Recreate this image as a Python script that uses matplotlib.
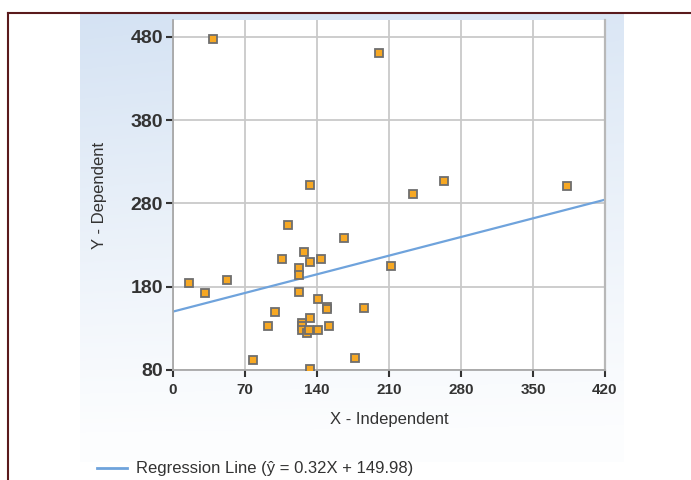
import numpy as np
import matplotlib
matplotlib.use("Agg")
import matplotlib.pyplot as plt
from matplotlib.lines import Line2D

x_vals = [39, 200, 133, 233, 264, 383, 166, 212, 186, 177, 16, 31, 53, 78, 93, 99,
          106, 112, 123, 123, 128, 133, 144, 123, 141, 150, 150, 133, 126, 126, 126,
          130, 132, 141, 152, 133]
y_vals = [477, 460, 302, 291, 307, 301, 238, 205, 154, 94, 185, 172, 188, 92, 133, 150,
          213, 254, 202, 194, 222, 210, 213, 174, 165, 156, 153, 142, 137, 133, 128,
          124, 128, 128, 133, 81]
slope = 0.32
intercept = 149.98
x_ticks = [0, 70, 140, 210, 280, 350, 420]
y_ticks = [80, 180, 280, 380, 480]
legend_label = "Regression Line (ŷ = 0.32X + 149.98)"

W, H = 691, 480
fig = plt.figure(figsize=(W / 100, H / 100), dpi=100)
fig.patch.set_facecolor("white")

# background gradient panel
bg = fig.add_axes([80 / W, 1 - 462 / H, (624 - 80) / W, (462 - 13) / H], zorder=0)
ny, nx = 200, 200
yy = np.linspace(0, 1, ny)[:, None]
xx = np.linspace(0, 1, nx)[None, :]
alpha = (0.06 + 0.94 * np.clip(1.0 - yy * 1.05, 0, 1) ** 1.1) * (0.85 + 0.15 * (1 - xx)) * np.ones_like(xx)
img = np.zeros((ny, nx, 4))
img[..., 0] = 0.835
img[..., 1] = 0.890
img[..., 2] = 0.953
img[..., 3] = alpha
bg.imshow(img, aspect="auto", extent=[0, 1, 0, 1], origin="upper")
bg.set_axis_off()

ax = fig.add_axes([172.7 / W, 1 - 370 / H, (605 - 172.7) / W, 350 / H], zorder=1)
ax.set_facecolor("white")
ax.set_xlim(0, 420)
ax.set_ylim(80, 80 + 350 / 0.8333)
ax.set_xticks(x_ticks)
ax.set_yticks(y_ticks)
ax.grid(True, color="#c9c9c9", linewidth=1.3, zorder=0)
ax.spines["top"].set_visible(False)
ax.spines["right"].set_color("#b8b8b8")
ax.spines["right"].set_linewidth(1.6)
ax.spines["left"].set_color("#a8a8a8")
ax.spines["bottom"].set_color("#a8a8a8")
ax.spines["left"].set_linewidth(1.3)
ax.spines["bottom"].set_linewidth(1.3)
ax.tick_params(axis="both", direction="out", length=5, width=1.5, color="#333333")
ax.tick_params(axis="y", labelsize=14, pad=2, labelcolor="#333333")
ax.tick_params(axis="x", labelsize=11, pad=4, labelcolor="#333333")
for lab in ax.get_yticklabels():
    lab.set_fontweight("bold")
    lab.set_family("Liberation Sans")
for lab in ax.get_xticklabels():
    lab.set_fontweight("bold")
    lab.set_family("Liberation Sans")

xl = np.array([0, 420])
ax.plot(xl, slope * xl + intercept, color="#6fa3dc", linewidth=1.6, zorder=2)
ax.plot(x_vals, y_vals, linestyle="none", marker="s", markersize=6.2,
        markerfacecolor="#f7a823", markeredgecolor="#6e6e6e", markeredgewidth=1.3, zorder=3)
ax.set_xlabel("X - Independent", fontsize=12, color="#333333", family="Liberation Sans", labelpad=11)
ax.set_ylabel("Y - Dependent", fontsize=12, color="#333333", family="Liberation Sans", labelpad=17)

# legend drawn manually at bottom
fig.add_artist(Line2D([97 / W, 127 / W], [1 - 468 / H, 1 - 468 / H], color="#6fa3dc", linewidth=2))
fig.text(136 / W, 1 - 468 / H, legend_label, fontsize=12, color="#333333",
         family="Liberation Sans", va="center", ha="left")

# frame border
fig.add_artist(Line2D([7.5 / W, 1.0], [1 - 12.5 / H, 1 - 12.5 / H], color="#5a1a1c", linewidth=1.5))
fig.add_artist(Line2D([7.5 / W, 7.5 / W], [0, 1 - 12.5 / H], color="#5a1a1c", linewidth=1.5))

fig.savefig("out.png", dpi=100)
